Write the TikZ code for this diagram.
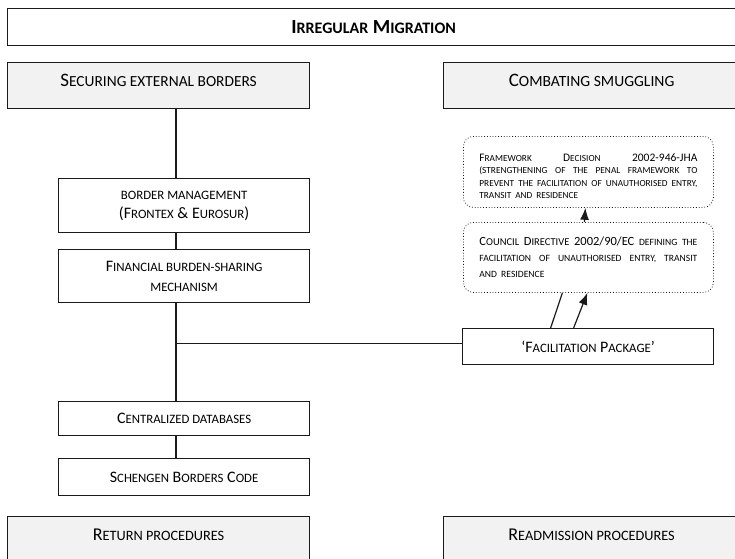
\documentclass[tikz,border=0pt]{standalone}
\usepackage{fontspec}
\setmainfont{Carlito}
\usetikzlibrary{arrows.meta,calc}
\definecolor{boxgray}{HTML}{F2F2F2}
\definecolor{ink}{HTML}{1A1A1A}
\newcommand\fsz[2]{{\fontsize{#1}{#1}\selectfont #2}}
\newcommand\up[1]{\raisebox{0pt}[\height][\dimexpr\depth+10pt\relax]{#1}}
\newcommand\jline[1]{\makebox[218pt][s]{\spaceskip=2.5pt plus 1fil\xspaceskip=2.5pt plus 1fil #1}}
\begin{document}
\begin{tikzpicture}[x=1pt,y=-1pt,
  box/.style={draw=ink, line width=1.2pt, inner sep=0pt, anchor=north west, align=center, font=\fontsize{16}{19}\selectfont},
  grey/.style={box, fill=boxgray},
  dbox/.style={draw=ink, dotted, line width=0.8pt, rounded corners=10pt, inner sep=0pt, anchor=north west, text width=218pt, align=left, minimum width=250},
  conn/.style={draw=ink, line width=1.2pt},
  arr/.style={conn, -{Latex[length=12pt,width=9pt]}}]
\useasboundingbox (0,0) rectangle (735,558);
\node[box, minimum width=732, minimum height=37, font=\fontsize{20}{22}\selectfont\bfseries] (title) at (7,8) {I\fsz{16}{RREGULAR} M\fsz{16}{IGRATION}};
\node[grey, minimum width=302, minimum height=46, font=\fontsize{19}{22}\selectfont] (sec) at (7,62) {\up{S\fsz{15.4}{ECURING EXTERNAL BORDERS}}};
\node[grey, minimum width=296, minimum height=46, font=\fontsize{19}{22}\selectfont] (com) at (443,62) {\up{C\fsz{15.6}{OMBATING SMUGGLING}}};
\node[box, minimum width=251, minimum height=54] (bm) at (58,178) {\fsz{12.8}{BORDER MANAGEMENT}\\(F\fsz{12.8}{RONTEX} \& E\fsz{12.8}{UROSUR})};
\node[box, minimum width=251, minimum height=53, font=\fontsize{16}{20}\selectfont] (fin) at (58,249) {F\fsz{12.8}{INANCIAL BURDEN-SHARING}\\\fsz{12.8}{MECHANISM}};
\node[box, minimum width=251, minimum height=34] (cen) at (58,401) {C\fsz{12.8}{ENTRALIZED DATABASES}};
\node[box, minimum width=251, minimum height=37] (sch) at (58,458) {S\fsz{12.8}{CHENGEN} B\fsz{12.8}{ORDERS} C\fsz{12.8}{ODE}};
\node[grey, minimum width=302, minimum height=46, font=\fontsize{18}{22}\selectfont] (ret) at (7,516) {\up{R\fsz{14.3}{ETURN PROCEDURES}}};
\node[grey, minimum width=296, minimum height=46, font=\fontsize{18}{22}\selectfont] (rea) at (443,516) {\up{R\fsz{14.3}{EADMISSION PROCEDURES}}};
\node[box, minimum width=251, minimum height=36] (fac) at (462,328) {‘F\fsz{12.8}{ACILITATION} P\fsz{12.8}{ACKAGE}’};
\node[dbox, minimum height=71, font=\fontsize{11.5}{12.5}\selectfont] (fw) at (463,136)
  {\jline{\rule{0pt}{16pt}F\fsz{9.3}{RAMEWORK} D\fsz{9.3}{ECISION} 2002-946-JHA}\\
   \jline{\fsz{9.3}{(STRENGTHENING OF THE PENAL FRAMEWORK TO}}\\
   \jline{\fsz{9.3}{PREVENT THE FACILITATION OF UNAUTHORISED ENTRY,}}\\
   \fsz{9.3}{TRANSIT AND RESIDENCE}};
\node[dbox, minimum height=70, font=\fontsize{12.5}{16}\selectfont] (cd) at (463,222)
  {\jline{C\fsz{10.5}{OUNCIL} D\fsz{10.5}{IRECTIVE} 2002/90/EC \fsz{9.6}{DEFINING THE}}\\
   \jline{\fsz{9.6}{FACILITATION OF UNAUTHORISED ENTRY, TRANSIT}}\\
   \fsz{9.6}{AND RESIDENCE}};
\coordinate (sp) at (176,0);
\draw[conn] (sec.south -| sp) -- (bm.north -| sp);
\draw[conn] (bm.south -| sp) -- (fin.north -| sp);
\draw[conn] (fin.south -| sp) -- (cen.north -| sp);
\draw[conn] (cen.south -| sp) -- (sch.north -| sp);
\draw[conn] ([yshift=3pt]fac.west -| sp) -- ([yshift=3pt]fac.west);
\draw[conn] ([xshift=-37.5pt]fac.north) -- ([xshift=-26pt]cd.south);
\draw[arr] ([xshift=-14.5pt]fac.north) -- ([xshift=-1pt]cd.south);
\draw[arr] ([xshift=-4pt]cd.north) -- ([xshift=-3pt]fw.south);
\end{tikzpicture}
\end{document}
